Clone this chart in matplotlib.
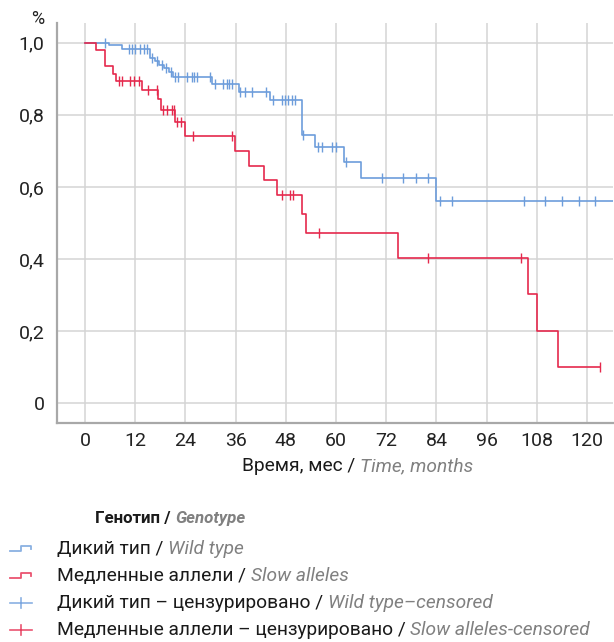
import numpy as np
import matplotlib
matplotlib.use("Agg")
import matplotlib.pyplot as plt

plt.rcParams['font.family'] = ['Roboto', 'DejaVu Sans']

# Kaplan-Meier steps: event times (months) and survival after each step
wt_t = [0, 5.8, 8.8, 15.5, 16.7, 17.8, 18.8, 20.0, 21.0, 30.4, 36.7, 44.2,
        51.8, 55.0, 62.0, 66.0, 84.0, 127.0]
wt_s = [1.0, 0.993, 0.983, 0.957, 0.948, 0.938, 0.929, 0.919, 0.906, 0.886,
        0.863, 0.840, 0.744, 0.711, 0.670, 0.624, 0.562, 0.562]
sa_t = [0, 2.6, 4.8, 6.8, 7.4, 13.6, 17.5, 18.2, 21.5, 23.9, 35.9, 39.1,
        42.7, 45.9, 51.8, 52.8, 74.9, 105.9, 108.0, 113.0, 123.2]
sa_s = [1.0, 0.980, 0.935, 0.913, 0.893, 0.870, 0.844, 0.814, 0.781, 0.741,
        0.700, 0.658, 0.620, 0.579, 0.525, 0.472, 0.404, 0.303, 0.201, 0.100,
        0.100]

# censored observations (months)
wt_c = [4.8, 10.4, 11.2, 12.0, 13.2, 14.0, 14.9, 16.1, 17.2, 18.3, 19.4,
        20.5, 21.6, 22.2, 24.5, 25.5, 26.1, 26.7, 29.9, 31.1, 33.1, 33.9,
        34.5, 35.1, 37.1, 38.3, 39.9, 43.3, 45.0, 47.0, 47.8, 48.6, 49.4,
        50.2, 52.0, 55.8, 56.6, 59.0, 60.0, 62.3, 70.9, 76.0, 79.0, 82.0,
        84.9, 87.8, 105.0, 109.9, 114.0, 118.0, 122.0]
sa_c = [8.2, 8.8, 10.8, 11.6, 12.8, 15.1, 17.1, 18.7, 19.5, 20.7, 21.2,
        22.1, 22.9, 25.9, 35.1, 47.0, 48.9, 49.8, 56.0, 82.0, 104.1, 123.2]

x_ticks = list(range(0, 121, 12))
y_ticks = [0, 0.2, 0.4, 0.6, 0.8, 1.0]
y_labels = ['0', '0,2', '0,4', '0,6', '0,8', '1,0']

BLUE = '#6d9ddb'
RED = '#e5294d'
GREY_TXT = '#808080'


def surv_at(t, s, c):
    t = np.asarray(t)
    s = np.asarray(s)
    idx = np.searchsorted(t, c, side='right') - 1
    return s[idx]


fig = plt.figure(figsize=(6.14, 6.42), dpi=100)
ax = fig.add_axes([57 / 614, 1 - 423.3 / 642, (613 - 57) / 614, (423.3 - 23) / 642])

ax.step(wt_t, wt_s, where='post', color=BLUE, lw=1.2, zorder=3)
ax.step(sa_t, sa_s, where='post', color=RED, lw=1.2, zorder=3)
ax.plot(wt_c, surv_at(wt_t, wt_s, wt_c), ls='none', marker='|', ms=7,
        mew=1.0, color=BLUE, zorder=4)
ax.plot(sa_c, surv_at(sa_t, sa_s, sa_c), ls='none', marker='|', ms=7,
        mew=1.0, color=RED, zorder=4)

ax.set_xlim(-6.69, 126.2)
ax.set_ylim(-0.0555, 1.0546)
ax.set_xticks(x_ticks)
ax.set_yticks(y_ticks)
ax.set_yticklabels(y_labels)
ax.tick_params(length=0, labelsize=14, colors='#222222')
ax.tick_params(axis='y', pad=9)
ax.tick_params(axis='x', pad=6)
ax.grid(True, color='#d4d4d4', lw=1.1)
ax.set_axisbelow(True)
for side in ('top', 'right'):
    ax.spines[side].set_visible(False)
for side in ('left', 'bottom'):
    ax.spines[side].set_color('#a8a8a8')
    ax.spines[side].set_linewidth(1.6)

fig.text(38 / 614, 1 - 19 / 642, '%', ha='center', va='center',
         fontsize=13, color='#222222')


def two_part(x, y, first, second, size=13.8, weight='normal'):
    t1 = fig.text(x, y, first, ha='left', va='center', fontsize=size,
                  color='#1a1a1a', fontweight=weight)
    ann = plt.annotate(second, xy=(1, 0), xycoords=t1, va='bottom',
                       ha='left', fontsize=size, color=GREY_TXT,
                       style='italic', fontweight=weight)
    return t1, ann


two_part(242 / 614, 1 - 466 / 642, 'Время, мес / ', 'Time, months')
two_part(95 / 614, 1 - 518 / 642, 'Генотип / ', 'Genotype', size=12.2,
         weight='bold')

# legend rows
rows = [
    ('Дикий тип / ', 'Wild type', BLUE, 'step'),
    ('Медленные аллели / ', 'Slow alleles', RED, 'step'),
    ('Дикий тип – цензурировано / ', 'Wild type–censored', BLUE, 'cens'),
    ('Медленные аллели – цензурировано / ', 'Slow alleles-censored', RED, 'cens'),
]
leg = fig.add_axes([0, 0, 1, 1], facecolor='none')
leg.set_xlim(0, 614)
leg.set_ylim(642, 0)
leg.axis('off')
for i, (ru, en, col, kind) in enumerate(rows):
    yc = 549 + 27 * i
    if kind == 'step':
        leg.plot([10, 21, 21, 31, 31], [yc + 2, yc + 2, yc - 3, yc - 3, yc],
                 color=col, lw=1.3, alpha=0.8)
    else:
        leg.plot([10, 32], [yc, yc], color=col, lw=1.2, alpha=0.8)
        leg.plot([21, 21], [yc - 5, yc + 5], color=col, lw=1.2, alpha=0.8)
    two_part(57 / 614, 1 - yc / 642, ru, en)

fig.savefig('out.png', dpi=100)
